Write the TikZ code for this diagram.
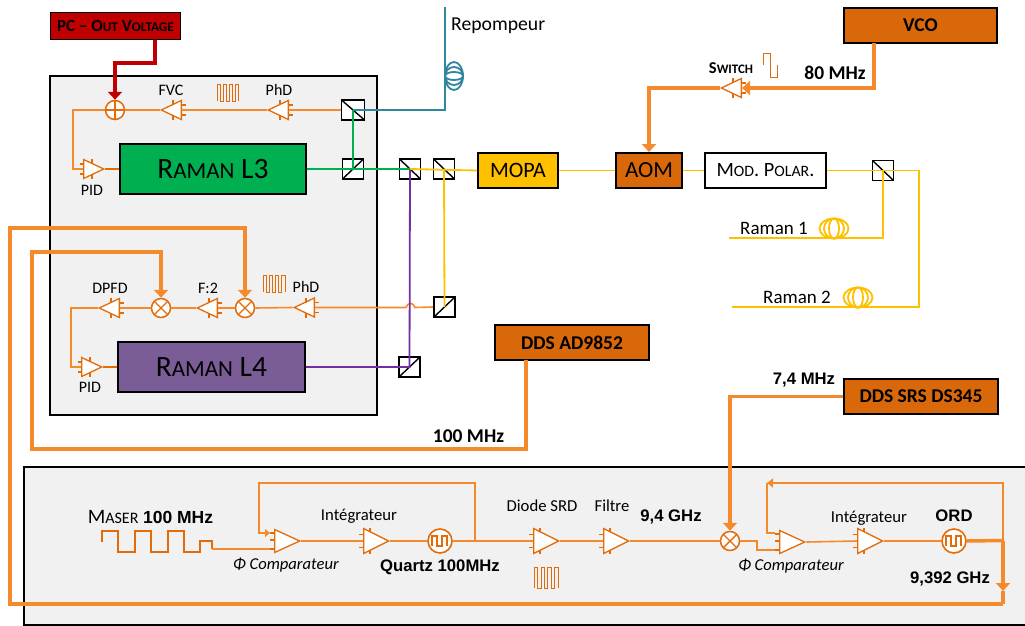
\documentclass[tikz,border=0pt]{standalone}
\usepackage{fontspec}
\usepackage{relsize}
\setmainfont{Carlito}
\newfontfamily\freqfont{Liberation Sans}[Scale=1.0]
\usetikzlibrary{arrows.meta,shapes.geometric}

\definecolor{wireorange}{HTML}{F58A2C}
\definecolor{partorange}{HTML}{E36C0A}
\definecolor{boxorange}{HTML}{D9680B}
\definecolor{pcred}{HTML}{C00000}
\definecolor{laserpurple}{HTML}{7A5C96}
\definecolor{beampurple}{HTML}{7030A0}
\definecolor{beamgreen}{HTML}{00B050}
\definecolor{beamyellow}{HTML}{FFC000}
\definecolor{beamteal}{HTML}{31859C}
\definecolor{panelgrey}{HTML}{F1F1F1}

\newcommand{\lsc}[1]{{\relscale{0.78}#1}}
\newcommand{\ampnode}[3]{%
    \node[ampbox,shape border rotate=#3] (#1) at (#2) {};
    \draw[ampmark,shift={(#2)},rotate=#3]
        (9,-5) -- (9,-10) (9,5) -- (9,10) (0,-5) -- (-3.5,-5) (0,5) -- (-3.5,5);
}
\newcommand{\chainamp}[2]{%
    \node[ampbox,minimum width=25pt,minimum height=25pt] (#1) at (#2) {};
    \draw[ampmark,shift={(#2)}]
        (7,-9) -- (7,-13) (7,9) -- (7,13) (0,-6.5) -- (-4.5,-6.5) (0,6.5) -- (-4.5,6.5);
}
\newcommand{\compnode}[2]{%
    \node[ampbox,minimum width=23pt,minimum height=25pt] (#1) at (#2) {};
    \draw[ampmark,shift={(#2)}]
        (0,-8) -- (-4,-8) (0,-1) -- (-4,-1) (0,8) -- (-4,8);
}

\begin{document}
\begin{tikzpicture}[
    x=1pt,
    y=-1pt,
    >=Latex,
    font=\fontsize{16}{18}\selectfont,
    tip/.style={-{Triangle[length=8pt,width=14pt]}},
    labeltext/.style={inner sep=0pt},
    chaintext/.style={inner sep=0pt,font=\fontsize{16.7}{18}\selectfont},
    fibretext/.style={inner sep=0pt,anchor=west,font=\fontsize{19}{21}\selectfont},
    freqtext/.style={inner sep=0pt,font=\fontsize{16.7}{18}\selectfont\freqfont\bfseries},
    boldtext/.style={inner sep=0pt,font=\fontsize{19.5}{21}\selectfont\bfseries},
    partbox/.style={draw=black,line width=1.9pt,inner sep=0pt,align=center},
    orangebox/.style={partbox,fill=boxorange,font=\fontsize{19.5}{21}\selectfont\bfseries},
    cubebox/.style={draw=black,line width=1.7pt,fill=white,minimum width=21pt,minimum height=20pt,inner sep=0pt},
    cubedown/.style={cubebox,path picture={
        \draw[line width=1.4pt] (path picture bounding box.north west) -- (path picture bounding box.south east);}},
    cubeup/.style={cubebox,path picture={
        \draw[line width=1.4pt] (path picture bounding box.south west) -- (path picture bounding box.north east);}},
    ampbox/.style={draw=partorange,fill=white,line width=1.3pt,shape=isosceles triangle,
        isosceles triangle stretches,minimum width=19pt,minimum height=20pt,inner sep=0pt,anchor=lower side},
    ampmark/.style={draw=partorange,line width=1.1pt},
    mixer/.style={circle,draw=partorange,fill=white,line width=1.5pt,minimum size=19pt,inner sep=0pt,path picture={
        \draw[line width=1.4pt,partorange] (path picture bounding box.north west) -- (path picture bounding box.south east)
            (path picture bounding box.south west) -- (path picture bounding box.north east);}},
    adder/.style={circle,draw=partorange,fill=white,line width=1.5pt,minimum size=19pt,inner sep=0pt,path picture={
        \draw[line width=1.4pt,partorange] (path picture bounding box.north) -- (path picture bounding box.south)
            (path picture bounding box.west) -- (path picture bounding box.east);}},
    osc/.style={circle,draw=partorange,fill=white,line width=1.6pt,minimum size=24pt,inner sep=0pt,path picture={
        \draw[line width=1.5pt,partorange,shift={(path picture bounding box.center)}]
            (-8,5) -- (-8,-5) -- (-3,-5) -- (-3,5) -- (2,5) -- (2,-5) -- (7,-5) -- (7,5);}},
    wavemark/.style={draw=partorange,line width=.9pt},
    wire/.style={draw=wireorange,line width=1.6pt},
    thickwire/.style={draw=wireorange,line width=3.5pt},
    fibre/.style={line width=1.8pt}
]

\useasboundingbox (0,0) rectangle (1025,626);

% --------------------------------------------------
% Panels
% --------------------------------------------------

\fill[panelgrey] (50,76) rectangle (377,415);
\draw[line width=1.3pt] (50,76) rectangle (377,415);

\fill[panelgrey] (24,467) rectangle (1025,625);
\draw[line width=1.3pt] (1025,467) -- (24,467) -- (24,625) -- (1025,625);

% --------------------------------------------------
% Boxes
% --------------------------------------------------

\node[partbox,fill=pcred,minimum width=130pt,minimum height=27pt] (pcbox) at (115.5,26)
    {\fontsize{17}{19}\selectfont\bfseries PC -- O\lsc{UT} V\lsc{OLTAGE}};

\node[partbox,fill=beamgreen,minimum width=186pt,minimum height=50pt] (ramanlthree) at (213,169)
    {\fontsize{29.5}{32}\selectfont R\lsc{AMAN} L3};

\node[partbox,fill=laserpurple,minimum width=187pt,minimum height=50pt] (ramanlfour) at (211.5,367)
    {\fontsize{29.5}{32}\selectfont R\lsc{AMAN} L4};

\node[partbox,fill=beamyellow,minimum width=80pt,minimum height=35pt] (mopa) at (518,170.5)
    {\fontsize{22}{24}\selectfont MOPA};

\node[partbox,fill=boxorange,minimum width=66pt,minimum height=35pt] (aom) at (649,170.5)
    {\fontsize{23}{25}\selectfont AOM};

\node[partbox,fill=white,minimum width=121pt,minimum height=35pt] (modpolar) at (765.5,170.5)
    {\fontsize{20.3}{22}\selectfont M\lsc{OD}. P\lsc{OLAR}.};

\node[orangebox,minimum width=153pt,minimum height=35pt] (vco) at (920.5,25.5) {VCO};

\node[orangebox,minimum width=154pt,minimum height=35pt] (ddsad) at (572,342.5) {DDS AD9852};

\node[orangebox,minimum width=154pt,minimum height=35pt] (ddssrs) at (921,396.5) {DDS SRS DS345};

% --------------------------------------------------
% Beam splitters
% --------------------------------------------------

\node[cubedown,minimum width=23pt] (cubetop) at (353,110) {};
\node[cubeup] (cubegreen) at (353,169) {};
\node[cubedown] (cubepurple) at (410,169) {};
\node[cubedown] (cubeyellow) at (444,169) {};
\node[cubeup] (cubebeat) at (444.5,307) {};
\node[cubeup] (cubelfour) at (409.5,367) {};
\node[cubedown] (cuberaman) at (883,170.5) {};

% --------------------------------------------------
% Loop of L3
% --------------------------------------------------

\node[adder] (addthree) at (115,110) {};
\ampnode{fvc}{182,110}{180}
\ampnode{phdthree}{289,110}{180}
\ampnode{pidthree}{83,169}{0}

\node[labeltext] (lblfvc) at (171,90) {FVC};
\node[labeltext] (lblphdthree) at (279,90) {PhD};
\node[labeltext] (lblpidthree) at (92,190) {PID};

\coordinate (pcout) at (155,40);
\coordinate (redmid) at (115,63);
\coordinate (cornerthree) at (73,110);

\draw[wavemark] (217,101) -- (217,84) -- (220,84) -- (220,101) -- (223,101) -- (223,84) -- (226,84)
    -- (226,101) -- (229,101) -- (229,84) -- (232,84) -- (232,101) -- (235,101) -- (235,84) -- (238,84) -- (238,101);

\draw[wire] (cubetop.west) -- (phdthree.lower side);
\draw[wire] (phdthree.apex) -- (fvc.lower side);
\draw[wire] (fvc.apex) -- (addthree.east);
\draw[wire] (addthree.west) -- (cornerthree) |- (pidthree.lower side);
\draw[wire,partorange] (pidthree.apex) -- (ramanlthree.west);
\draw[draw=pcred,line width=3.5pt,tip] (pcout) |- (redmid) -- (addthree.north);

% --------------------------------------------------
% Loop of L4
% --------------------------------------------------

\node[mixer] (mixa) at (161,308) {};
\node[mixer] (mixb) at (245,308) {};
\ampnode{dpfd}{120,308}{180}
\ampnode{divtwo}{218,308}{180}
\ampnode{phdfour}{315,307.5}{180}
\ampnode{pidfour}{81,367}{0}

\node[labeltext] (lbldpfd) at (110,288) {DPFD};
\node[labeltext] (lbldiv) at (208,288) {F:2};
\node[labeltext] (lblphdfour) at (306,287) {PhD};
\node[labeltext] (lblpidfour) at (90,387) {PID};

\coordinate (cornerfour) at (71,308);
\coordinate (hopright) at (415,307.5);
\coordinate (hopleft) at (406,307.5);

\draw[wavemark] (263,292) -- (263,275) -- (266,275) -- (266,292) -- (269,292) -- (269,275) -- (272,275)
    -- (272,292) -- (275,292) -- (275,275) -- (278,275) -- (278,292) -- (281,292) -- (281,275) -- (285,275) -- (285,292);

\draw[wire] (cubebeat.west) -- (hopright) .. controls (413,302) and (408,302) .. (hopleft) -- (phdfour.lower side);
\draw[wire] (phdfour.apex) -- (mixb.east);
\draw[wire] (mixb.west) -- (divtwo.lower side);
\draw[wire] (divtwo.apex) -- (mixa.east);
\draw[wire] (mixa.west) -- (dpfd.lower side);
\draw[wire] (dpfd.apex) -- (cornerfour) |- (pidfour.lower side);
\draw[wire,partorange] (pidfour.apex) -- (ramanlfour.west);

% --------------------------------------------------
% Beams
% --------------------------------------------------

\coordinate (fibreteal) at (445,110);
\coordinate (fibretealend) at (445,7);
\coordinate (tealcoil) at (454,76);

\draw[fibre,beamteal] (cubetop.center) -- (fibreteal) -- (fibretealend);
\foreach \ry in {14,9,4}
{
    \draw[fibre,beamteal] (tealcoil) ellipse [x radius=9,y radius=\ry];
}
\node[fibretext,font=\fontsize{19.7}{21}\selectfont] (lblrepompeur) at (451,26) {Repompeur};

\draw[fibre,beamgreen] (ramanlthree.east) -- (cubepurple.center);
\draw[fibre,beamgreen] (cubegreen.center) -- (cubetop.center);
\draw[fibre,beampurple] (cubepurple.center) -- (cubelfour.center) -- (ramanlfour.east);
\draw[fibre,beamyellow] (cubepurple.center) -- (mopa.west);
\draw[fibre,beamyellow] (cubeyellow.center) -- (cubebeat.center);
\draw[fibre,beamyellow] (mopa.east) -- (aom.west);
\draw[fibre,beamyellow] (aom.east) -- (modpolar.west);
\draw[fibre,beamyellow] (modpolar.east) -- (cuberaman.center);

\coordinate (ramanonecorner) at (883,238);
\coordinate (ramanoneend) at (729,238);
\coordinate (ramantwotop) at (919,170.5);
\coordinate (ramantwocorner) at (919,307);
\coordinate (ramantwoend) at (732,307);
\coordinate (ramanonecoil) at (834,228.5);
\coordinate (ramantwocoil) at (858,297.5);

\draw[fibre,beamyellow] (cuberaman.center) -- (ramanonecorner) -- (ramanoneend);
\draw[fibre,beamyellow] (cuberaman.center) -- (ramantwotop) -- (ramantwocorner) -- (ramantwoend);
\foreach \rx in {14.5,10,5}
{
    \draw[fibre,beamyellow] (ramanonecoil) ellipse [x radius=\rx,y radius=10];
    \draw[fibre,beamyellow] (ramantwocoil) ellipse [x radius=\rx,y radius=10];
}
\node[fibretext] (lblramanone) at (740,228) {Raman 1};
\node[fibretext] (lblramantwo) at (763,297) {Raman 2};

% --------------------------------------------------
% Switch
% --------------------------------------------------

\ampnode{switchamp}{742,88}{180}
\node[labeltext,font=\fontsize{16.6}{18}\selectfont\bfseries] (lblswitch) at (731,68) {S\lsc{WITCH}};
\node[boldtext] (lbleighty) at (835,73) {80 MHz};

\coordinate (vcoout) at (874,43);
\coordinate (switchin) at (874,88);
\coordinate (aomcorner) at (649,88);

\draw[wavemark] (763,65) -- (763,53) -- (770,53) -- (770,77) -- (777,77) -- (777,65);

\draw[thickwire,tip] (vcoout) -- (switchin) -- (switchamp.lower side);
\draw[thickwire,tip] (switchamp.apex) -- (aomcorner) -- (aom.north);

% --------------------------------------------------
% Reference lines
% --------------------------------------------------

\coordinate (ddsadout) at (526,360);
\coordinate (ddsadcorner) at (526,449);
\coordinate (loopfoura) at (32,449);
\coordinate (loopfourb) at (32,252);
\coordinate (loopfourc) at (161,252);
\coordinate (ordcorner) at (1003,540.5);
\coordinate (ordtip) at (1003,591);
\coordinate (ordfoot) at (1003,604);
\coordinate (loopthreea) at (10,604);
\coordinate (loopthreeb) at (10,228);
\coordinate (loopthreec) at (245,228);
\coordinate (srscorner) at (730,396.5);

\node[boldtext] (lblhundred) at (468.5,436) {100 MHz};
\node[freqtext] (lblseven) at (804,380) {7,4 MHz};

\draw[thickwire,tip] (ddsadout) -- (ddsadcorner) -- (loopfoura) -- (loopfourb) -- (loopfourc) -- (mixa.north);
\draw[thickwire,tip] (ordfoot) -- (loopthreea) -- (loopthreeb) -- (loopthreec) -- (mixb.north);

% --------------------------------------------------
% Bottom chain
% --------------------------------------------------

\node[labeltext] (lblmaser) at (150.5,517)
    {\fontsize{20.5}{22}\selectfont M\lsc{ASER} {\freqfont\bfseries\fontsize{17.5}{19}\selectfont 100 MHz}};

\compnode{compa}{274,541}
\chainamp{intega}{363,541}
\node[osc] (quartz) at (440,541) {};
\chainamp{diode}{533,541}
\chainamp{filtre}{603,541}
\node[mixer] (mixc) at (730,541) {};
\compnode{compb}{779,542}
\chainamp{integb}{857,541}
\node[osc] (ord) at (954,541) {};

\node[chaintext] (lblintega) at (359,516) {Intégrateur};
\node[chaintext] (lblintegb) at (869,518) {Intégrateur};
\node[chaintext] (lbldiode) at (542,506) {Diode SRD};
\node[chaintext] (lblfiltre) at (612,506) {Filtre};
\node[chaintext,font=\fontsize{16.6}{18}\selectfont\itshape] (lblcompa) at (286,565) {Φ Comparateur};
\node[chaintext,font=\fontsize{16.6}{18}\selectfont\itshape] (lblcompb) at (791,566) {Φ Comparateur};
\node[freqtext] (lblquartz) at (440,567) {Quartz 100MHz};
\node[freqtext] (lblnine) at (671,517) {9,4 GHz};
\node[freqtext] (lblord) at (954,516) {ORD};
\node[freqtext] (lblninethree) at (950,579) {9,392 GHz};

\coordinate (masera) at (212,549);
\coordinate (compain) at (270,549);
\coordinate (feedbacka) at (259,533);
\coordinate (feedbackb) at (259,483);
\coordinate (feedbackc) at (475,483);
\coordinate (feedbackd) at (475,541);
\coordinate (feedbackin) at (270,533);
\coordinate (mixbenda) at (757,541);
\coordinate (mixbendb) at (757,550);
\coordinate (compbin) at (775,550);
\coordinate (feedbacke) at (1003,483);
\coordinate (feedbackf) at (767,483);
\coordinate (feedbackg) at (767,533);
\coordinate (feedbackh) at (775,533);

\draw[wavemark,line width=1.7pt] (102,542) -- (102,531) -- (118,531) -- (118,552) -- (135,552) -- (135,531) -- (151,531)
    -- (151,552) -- (168,552) -- (168,531) -- (184,531) -- (184,552) -- (200,552) -- (200,541) -- (212,541) -- (masera);
\draw[wavemark] (534,588) -- (534,567) -- (537,567) -- (537,588) -- (541,588) -- (541,567) -- (544,567)
    -- (544,588) -- (547,588) -- (547,567) -- (551,567) -- (551,588) -- (554,588) -- (554,567) -- (558,567) -- (558,588);

\draw[wire] (masera) -- (compain);
\draw[wire,-{Triangle[length=5pt,width=8pt]}] (feedbackd) -- (feedbackc) -- (feedbackb) -- (feedbacka) -- (feedbackin);
\draw[wire] (compa.apex) -- (intega.lower side);
\draw[wire] (intega.apex) -- (quartz.west);
\draw[wire] (quartz.east) -- (diode.lower side);
\draw[wire] (diode.apex) -- (filtre.lower side);
\draw[wire] (filtre.apex) -- (mixc.west);
\draw[wire] (mixc.east) -- (mixbenda) -- (mixbendb) -- (compbin);
\draw[wire] (compb.apex) -- (integb.lower side);
\draw[wire] (integb.apex) -- (ord.west);
\draw[wire,-{Triangle[length=6pt,width=9pt]}] (ordcorner) -- (feedbacke) -- (feedbackf);
\draw[wire] (feedbackf) -- (feedbackg) -- (feedbackh);

\draw[thickwire] (ord.east) -- (ordcorner);
\draw[thickwire,tip] (ordcorner) -- (ordtip);
\draw[thickwire] (ordtip) -- (ordfoot);

\draw[thickwire,tip] (ddssrs.west) -- (srscorner) -- (mixc.north);

\end{tikzpicture}
\end{document}
